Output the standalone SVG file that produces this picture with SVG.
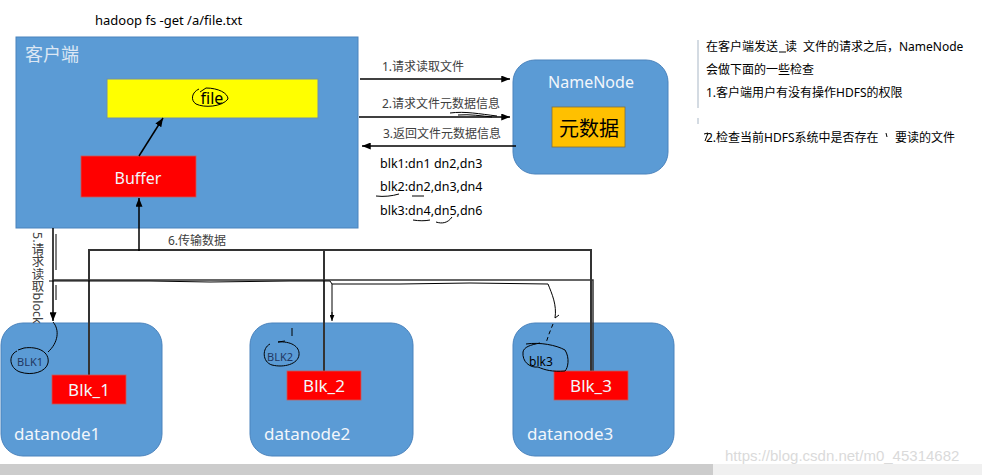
<svg xmlns="http://www.w3.org/2000/svg" width="982" height="475" viewBox="0 0 982 475">
<style>
.node{fill:#5B9BD5;stroke:#4A83BD;stroke-width:1}
.red{fill:#FF0000;stroke:#C55A5A;stroke-width:0.8}
.wt{font-family:"Noto Sans","Noto Sans CJK SC",sans-serif;fill:#F2F6FB}
.lbl{font-family:"Noto Sans","Noto Sans CJK SC",sans-serif;font-size:12px;fill:#404040}
.blk{font-family:"Noto Sans","Noto Sans CJK SC",sans-serif;font-size:12.5px;fill:#000}
.note{font-family:"Noto Sans","Noto Sans CJK SC",sans-serif;font-size:12px;fill:#000}
.ln{fill:none;stroke:#000;stroke-width:1.5}
.gl{fill:none;stroke:#333;stroke-width:2}
.hd{fill:none;stroke:#000;stroke-width:1}
.hand{font-family:"Noto Sans",sans-serif;font-size:11px;fill:#1F3864}
</style>
<defs>
<marker id="arr" viewBox="0 0 10 8" refX="10" refY="4" markerWidth="9" markerHeight="7" orient="auto" markerUnits="userSpaceOnUse">
<path d="M0,0 L10,4 L0,8 z" fill="#000"/>
</marker>
<marker id="arrs" viewBox="0 0 10 8" refX="10" refY="4" markerWidth="6" markerHeight="5" orient="auto" markerUnits="userSpaceOnUse">
<path d="M0,0 L10,4 L0,8 z" fill="#000"/>
</marker>
</defs>
<rect width="982" height="475" fill="#fff"/>

<text x="95" y="25" style="font-family:'Noto Sans',sans-serif;font-size:13px;fill:#000">hadoop fs -get /a/file.txt</text>

<g id="client">
<rect class="node" x="16" y="37" width="342" height="191"/>
<text class="wt" x="25" y="61" style="font-size:18px;fill:#DCE7F4">客户端</text>
</g>
<g id="file">
<rect x="107" y="79" width="211" height="39" fill="#FFFF00" stroke="#6F8FAF" stroke-width="1"/>
<text x="212" y="104" text-anchor="middle" style="font-family:'Noto Sans',sans-serif;font-size:16px;fill:#000">file</text>
</g>
<g id="buffer">
<rect class="red" x="81" y="156" width="115" height="41"/>
<text class="wt" x="138" y="184" text-anchor="middle" style="font-size:16px">Buffer</text>
</g>
<g id="namenode">
<rect class="node" x="513" y="60" width="155" height="114" rx="22"/>
<text class="wt" x="591" y="88" text-anchor="middle" style="font-size:16px">NameNode</text>
</g>
<g id="metadata">
<rect x="552" y="107" width="73" height="40" fill="#FFC000" stroke="#7F6F3F" stroke-width="0.8"/>
<text x="589" y="136" text-anchor="middle" style="font-family:'Noto Sans CJK SC',sans-serif;font-size:20px;fill:#000">元数据</text>
</g>
<g id="datanode1">
<rect class="node" x="1" y="323" width="161" height="133" rx="22"/>
<text class="wt" x="14" y="440" style="font-size:17px">datanode1</text>
</g>
<g id="datanode2">
<rect class="node" x="250" y="323" width="163" height="133" rx="22"/>
<text class="wt" x="264" y="440" style="font-size:17px">datanode2</text>
</g>
<g id="datanode3">
<rect class="node" x="513" y="323" width="161" height="133" rx="22"/>
<text class="wt" x="527" y="440" style="font-size:17px">datanode3</text>
</g>

<g id="connectors">
<line class="ln" x1="360" y1="79" x2="510" y2="79" marker-end="url(#arr)"/>
<line class="ln" x1="359" y1="117" x2="510" y2="117" marker-end="url(#arr)"/>
<line class="ln" x1="516" y1="146" x2="362" y2="146" marker-end="url(#arr)"/>
<line class="ln" x1="139" y1="156" x2="163" y2="118" marker-end="url(#arr)"/>
<path class="gl" d="M89,375 V250 H591 V371"/>
<path class="gl" d="M324,250 V371"/>
<line class="ln" x1="139" y1="251" x2="139" y2="198" marker-end="url(#arr)"/>
<line class="ln" x1="53" y1="228" x2="53" y2="321" marker-end="url(#arr)"/>
<path class="hd" d="M56,234 V270 M56,285 V300"/>
<path class="gl" style="stroke-width:1.5" d="M53,280 H593 V371"/>
</g>

<g id="blk1">
<rect class="red" x="52" y="375" width="74" height="29"/>
<text class="wt" x="89" y="396" text-anchor="middle" style="font-size:17px">Blk_1</text>
</g>
<g id="blk2">
<rect class="red" x="287" y="371" width="74" height="29"/>
<text class="wt" x="324" y="392" text-anchor="middle" style="font-size:17px">Blk_2</text>
</g>
<g id="blk3">
<rect class="red" x="554" y="371" width="74" height="29"/>
<text class="wt" x="591" y="392" text-anchor="middle" style="font-size:17px">Blk_3</text>
</g>

<g id="labels">
<text class="lbl" x="382" y="71">1.请求读取文件</text>
<text class="lbl" x="382" y="108">2.请求文件元数据信息</text>
<text class="lbl" x="383" y="138">3.返回文件元数据信息</text>
<text class="lbl" x="168" y="245">6.传输数据</text>
<text class="lbl" x="37" y="232" style="writing-mode:vertical-rl;font-size:12.5px">5.请求读取block</text>
<text class="blk" x="380" y="168">blk1:dn1 dn2,dn3</text>
<text class="blk" x="380" y="191">blk2:dn2,dn3,dn4</text>
<text class="blk" x="380" y="215">blk3:dn4,dn5,dn6</text>
</g>

<g id="notes">
<line x1="698" y1="40" x2="698" y2="108" stroke="#A9B7C6" stroke-width="1"/>
<line x1="698" y1="118" x2="698" y2="124" stroke="#A9B7C6" stroke-width="1"/>
<text class="note" y="51"><tspan x="706">在客户端发送</tspan><tspan x="785">读</tspan><tspan x="803">文件的请求之后，NameNode</tspan></text>
<line x1="779" y1="52" x2="786" y2="52" stroke="#000" stroke-width="1"/>
<text class="note" x="706" y="74">会做下面的一些检查</text>
<text class="note" x="706" y="97">1.客户端用户有没有操作HDFS的权限</text>
<text class="note" y="142"><tspan x="706">2.检查当前HDFS系统中是否存在</tspan><tspan x="895">要读的文件</tspan></text>
<path class="hd" d="M704,134 L708,133 L705,141 M886,133 L887,137"/>
</g>

<g id="annotations">
<path class="hd" d="M199,89 C192,92 190,100 196,104 C204,108 222,107 228,99 C228,93 218,88 206,88 L200,92"/>
<path class="hd" d="M450,113 C465,111 480,114 497,116 M458,115 C470,114 482,116 492,117"/>
<path class="hd" d="M376,196 C384,197 392,196 399,194 M412,196 L424,196"/>
<path class="hd" d="M413,220 C419,221 425,221 430,220 M436,222 C442,224 448,223 452,217"/>
<path class="hd" d="M49,281 L150,281 L210,282 L290,281 L330,281 L332,284 L332,318"/>
<line class="hd" x1="332" y1="312" x2="332" y2="321" marker-end="url(#arrs)"/>
<path class="hd" d="M332,284 L400,284 L470,283 L548,284 C552,294 557,305 555,318 L559,315"/>
<path class="hd" stroke-dasharray="4,3" d="M553,324 L549,334 L546,343"/>
<path class="hd" d="M53,322 C60,330 58,343 48,352"/>
<path class="hd" d="M17,351 C8,355 9,368 20,372 C32,376 46,372 48,363 C50,352 38,346 24,348 L18,350"/>
<text class="hand" x="17" y="366">BLK1</text>
<path class="hd" d="M292,328 L292,336"/>
<path class="hd" d="M270,344 C262,348 262,362 272,365 C284,368 298,364 299,355 C300,346 290,341 278,342 L285,341"/>
<text class="hand" x="267" y="361">BLK2</text>
<path class="hd" d="M526,344 C540,342 556,345 565,350 C570,358 568,368 565,371 C552,372 545,370 538,367 C530,368 522,362 523,352 C524,347 530,345 540,343"/>
<text class="hand" x="529" y="366" style="font-size:12px;fill:#000">blk3</text>
</g>

<rect x="0" y="464" width="713" height="11" fill="#CCCCCC"/>
<rect x="713" y="464" width="269" height="11" fill="#F0F0F0"/>
<text x="725" y="461" style="font-family:'Liberation Sans',Arial,sans-serif;font-size:15px;fill:#DADADA">https://blog.csdn.net/m0_45314682</text>
</svg>
